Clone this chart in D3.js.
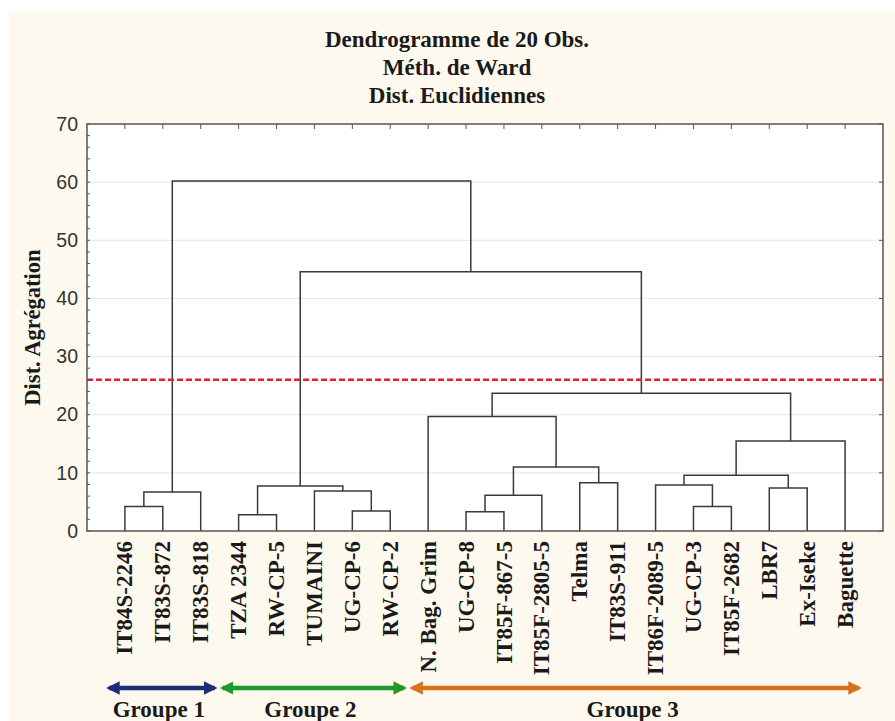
<!DOCTYPE html>
<html>
<head>
<meta charset="utf-8">
<script src="https://cdn.jsdelivr.net/npm/d3@7"></script>
<style>
    body { margin: 0; background: #ffffff; }
    svg { display: block; }
</style>
</head>
<body>
<div class="chart"></div>
<script>
// leaf order as drawn on the x axis
var leaves = ["IT84S-2246", "IT83S-872", "IT83S-818", "TZA 2344", "RW-CP-5", "TUMAINI",
              "UG-CP-6", "RW-CP-2", "N. Bag. Grim", "UG-CP-8", "IT85F-867-5", "IT85F-2805-5",
              "Telma", "IT83S-911", "IT86F-2089-5", "UG-CP-3", "IT85F-2682", "LBR7",
              "Ex-Iseke", "Baguette"];

// merges: [left node, right node, height]; nodes 0-19 are leaves, 20+ are merges in order
var merges = [
    [0, 1, 4.2],     // 20
    [20, 2, 6.7],    // 21
    [3, 4, 2.8],     // 22
    [6, 7, 3.45],    // 23
    [5, 23, 6.9],    // 24
    [22, 24, 7.75],  // 25
    [9, 10, 3.3],    // 26
    [26, 11, 6.15],  // 27
    [12, 13, 8.3],   // 28
    [27, 28, 11.0],  // 29
    [8, 29, 19.7],   // 30
    [15, 16, 4.2],   // 31
    [14, 31, 7.9],   // 32
    [17, 18, 7.4],   // 33
    [32, 33, 9.6],   // 34
    [34, 19, 15.5],  // 35
    [30, 35, 23.7],  // 36
    [25, 36, 44.6],  // 37
    [21, 37, 60.2]   // 38
];

var cutHeight = 26;
var yTicks = [0, 10, 20, 30, 40, 50, 60, 70];

var groupNames = ["Groupe 1", "Groupe 2", "Groupe 3"];
var groupFirst = [0, 3, 8];
var groupLast = [2, 7, 19];
var groupColors = ["#1a2f78", "#1f9a2a", "#d8731d"];

var titleLines = ["Dendrogramme de 20 Obs.", "Méth. de Ward", "Dist. Euclidiennes"];

function dendrogram(){
    var w = 895, h = 721;
    var pLeft = 87, pRight = 883, pTop = 124, pBottom = 531;
    var serif = "'Times New Roman', 'Liberation Serif', serif";

    var svg = d3.select(".chart").append("svg")
                .attr("width", w)
                .attr("height", h);

    svg.append("rect")
        .attr("x", 9).attr("y", 11)
        .attr("width", w - 9).attr("height", h - 11)
        .attr("fill", "#fef9ee");

    svg.append("rect")
        .attr("x", pLeft).attr("y", pTop)
        .attr("width", pRight - pLeft).attr("height", pBottom - pTop)
        .attr("fill", "#ffffff");

    var xScale = d3.scalePoint()
                    .domain(d3.range(leaves.length))
                    .range([pLeft, pRight])
                    .padding(1);

    var yScale = d3.scaleLinear()
                    .domain([0, 70])
                    .range([pBottom, pTop]);

    //gridlines
    svg.selectAll(".grid")
        .data(yTicks.slice(1, -1))
        .enter()
        .append("line")
        .attr("x1", pLeft).attr("x2", pRight)
        .attr("y1", function(d){ return yScale(d); })
        .attr("y2", function(d){ return yScale(d); })
        .attr("stroke", "#e6e6e6")
        .attr("stroke-width", 1);

    //node positions: leaves first, then each merge at the middle of its children
    var nodeX = [], nodeH = [];
    leaves.forEach(function(d, i){
        nodeX[i] = xScale(i);
        nodeH[i] = 0;
    });
    merges.forEach(function(m, i){
        var id = leaves.length + i;
        nodeX[id] = (nodeX[m[0]] + nodeX[m[1]]) / 2;
        nodeH[id] = m[2];
    });

    svg.selectAll(".link")
        .data(merges)
        .enter()
        .append("path")
        .attr("d", function(m){
            return "M" + nodeX[m[0]] + "," + yScale(nodeH[m[0]]) +
                   "V" + yScale(m[2]) +
                   "H" + nodeX[m[1]] +
                   "V" + yScale(nodeH[m[1]]);
        })
        .attr("fill", "none")
        .attr("stroke", "#3a3a3a")
        .attr("stroke-width", 1.5);

    //cut line
    svg.append("line")
        .attr("x1", pLeft).attr("x2", pRight)
        .attr("y1", yScale(cutHeight)).attr("y2", yScale(cutHeight))
        .attr("stroke", "#e8202a")
        .attr("stroke-width", 2.5)
        .attr("stroke-dasharray", "6,3");

    //left axis
    var yAxis = d3.axisLeft(yScale)
                    .tickValues(yTicks)
                    .tickSize(0)
                    .tickPadding(9);

    svg.append("g")
        .attr("transform", "translate(" + pLeft + ",0)")
        .call(yAxis)
        .call(function(g){ g.select(".domain").remove(); })
        .style("font-family", "'Liberation Sans', Arial, sans-serif")
        .style("font-size", "19.5px")
        .selectAll("text").attr("fill", "#333");

    //minor ticks on the left axis
    svg.selectAll(".minor")
        .data(d3.range(0, 71, 2))
        .enter()
        .append("line")
        .attr("x1", pLeft).attr("x2", pLeft + 3)
        .attr("y1", function(d){ return yScale(d); })
        .attr("y2", function(d){ return yScale(d); })
        .attr("stroke", "#555");

    //right axis ticks
    svg.selectAll(".rtick")
        .data(yTicks)
        .enter()
        .append("line")
        .attr("x1", pRight - 4).attr("x2", pRight)
        .attr("y1", function(d){ return yScale(d); })
        .attr("y2", function(d){ return yScale(d); })
        .attr("stroke", "#555");

    //top ticks at the leaves
    svg.selectAll(".ttick")
        .data(d3.range(leaves.length))
        .enter()
        .append("line")
        .attr("x1", function(d){ return xScale(d); })
        .attr("x2", function(d){ return xScale(d); })
        .attr("y1", pTop).attr("y2", pTop + 5)
        .attr("stroke", "#555");

    //frame
    svg.append("rect")
        .attr("x", pLeft).attr("y", pTop)
        .attr("width", pRight - pLeft).attr("height", pBottom - pTop)
        .attr("fill", "none")
        .attr("stroke", "#555")
        .attr("stroke-width", 1.5);

    //leaf labels
    svg.selectAll(".leaf")
        .data(leaves)
        .enter()
        .append("text")
        .attr("transform", function(d, i){
            return "translate(" + xScale(i) + "," + (pBottom + 10) + ") rotate(-90)";
        })
        .attr("dy", "0.33em")
        .attr("text-anchor", "end")
        .attr("font-family", serif)
        .attr("font-weight", "bold")
        .attr("font-size", "23px")
        .attr("fill", "#1a1a1a")
        .text(function(d){ return d; });

    //y axis title
    svg.append("text")
        .attr("transform", "translate(40," + yScale(35) + ") rotate(-90)")
        .attr("text-anchor", "middle")
        .attr("font-family", serif)
        .attr("font-weight", "bold")
        .attr("font-size", "22.5px")
        .attr("fill", "#1a1a1a")
        .text("Dist. Agrégation");

    //title
    svg.selectAll(".title")
        .data(titleLines)
        .enter()
        .append("text")
        .attr("x", 457)
        .attr("y", function(d, i){ return 47 + i * 28; })
        .attr("text-anchor", "middle")
        .attr("font-family", serif)
        .attr("font-weight", "bold")
        .attr("font-size", "23px")
        .attr("fill", "#1a1a1a")
        .text(function(d){ return d; });

    //group arrows
    var defs = svg.append("defs");
    groupColors.forEach(function(c, i){
        defs.append("marker")
            .attr("id", "arrow" + i)
            .attr("viewBox", "0 0 10 10")
            .attr("refX", 8).attr("refY", 5)
            .attr("markerWidth", 3).attr("markerHeight", 3)
            .attr("markerUnits", "strokeWidth")
            .attr("orient", "auto-start-reverse")
            .append("path")
            .attr("d", "M0,0 L10,5 L0,10 Z")
            .attr("fill", c);
    });

    var arrowY = 688;
    groupNames.forEach(function(name, i){
        var x1 = xScale(groupFirst[i]) - 16;
        var x2 = xScale(groupLast[i]) + 14;
        svg.append("line")
            .attr("x1", x1).attr("x2", x2)
            .attr("y1", arrowY).attr("y2", arrowY)
            .attr("stroke", groupColors[i])
            .attr("stroke-width", 4.5)
            .attr("marker-start", "url(#arrow" + i + ")")
            .attr("marker-end", "url(#arrow" + i + ")");

        svg.append("text")
            .attr("x", (x1 + x2) / 2 - 3)
            .attr("y", 717)
            .attr("text-anchor", "middle")
            .attr("font-family", serif)
            .attr("font-weight", "bold")
            .attr("font-size", "23px")
            .attr("fill", "#1a1a1a")
            .text(name);
    });
}

dendrogram();
</script>
</body>
</html>
